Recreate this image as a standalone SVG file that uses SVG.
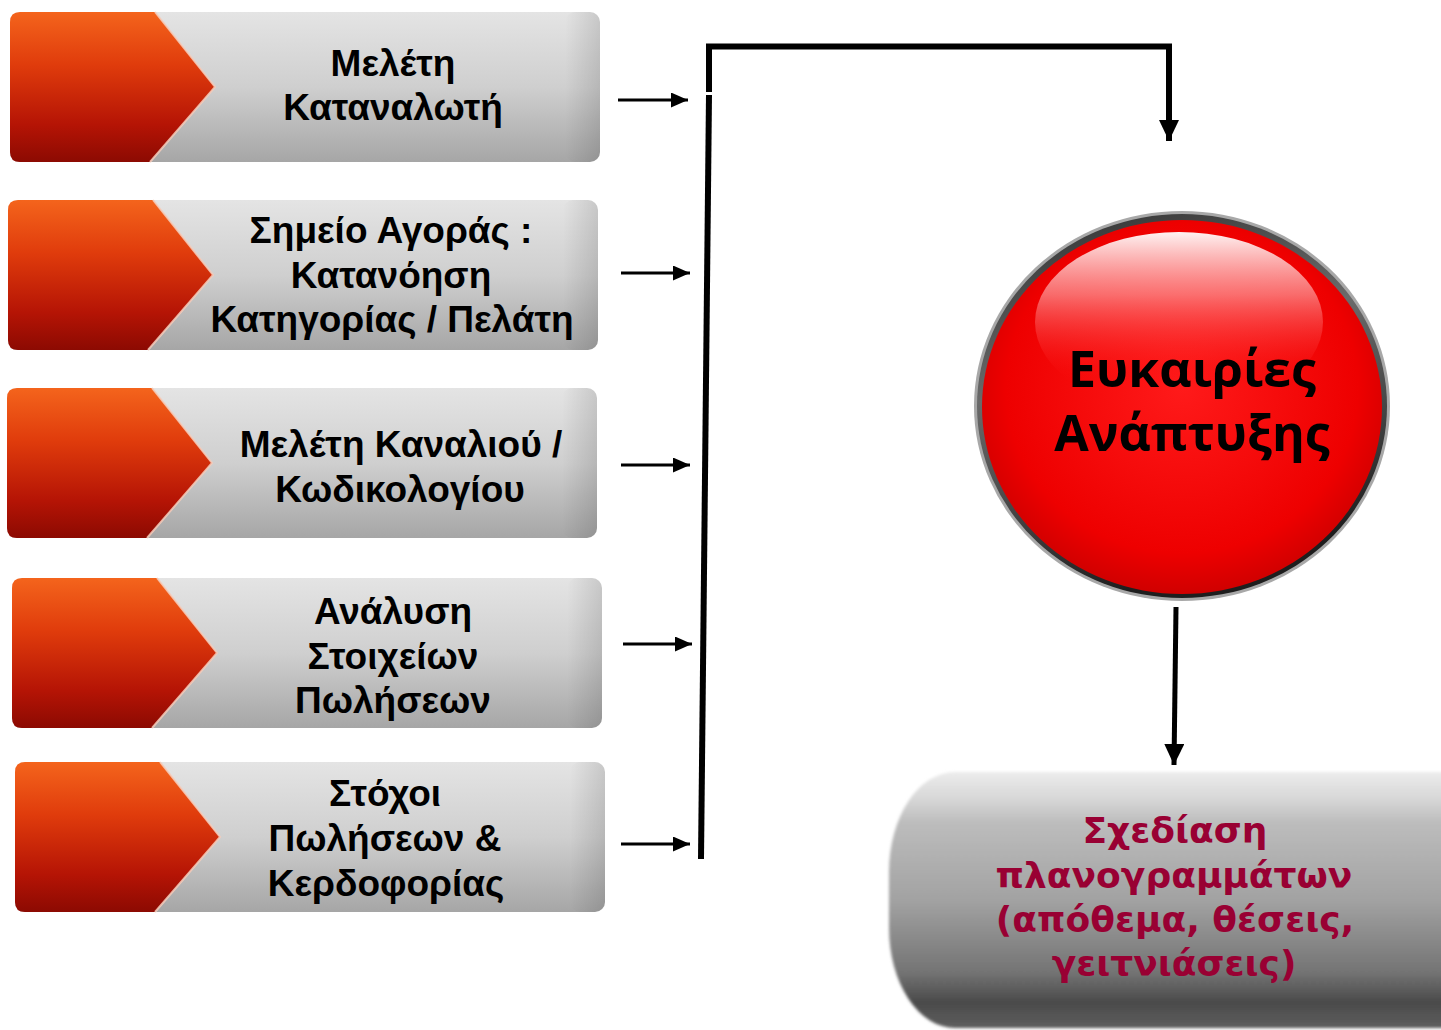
<svg xmlns="http://www.w3.org/2000/svg" xmlns:xlink="http://www.w3.org/1999/xlink" width="1441" height="1030" viewBox="0 0 1441 1030">
<defs>
  <linearGradient id="grayG" x1="0" y1="0" x2="0" y2="1">
    <stop offset="0" stop-color="#e4e4e4"/>
    <stop offset="0.5" stop-color="#cfcfcf"/>
    <stop offset="1" stop-color="#a6a6a6"/>
  </linearGradient>
  <linearGradient id="edgeG" x1="0" y1="0" x2="1" y2="0">
    <stop offset="0" stop-color="#000" stop-opacity="0"/>
    <stop offset="1" stop-color="#000" stop-opacity="0.12"/>
  </linearGradient>
  <linearGradient id="redG" x1="0" y1="0" x2="0" y2="1">
    <stop offset="0" stop-color="#f4641c"/>
    <stop offset="0.35" stop-color="#e03c0c"/>
    <stop offset="0.75" stop-color="#b51405"/>
    <stop offset="1" stop-color="#8c0a02"/>
  </linearGradient>
  <linearGradient id="ringG" x1="0" y1="0" x2="0.3" y2="1">
    <stop offset="0" stop-color="#2e2e2e"/>
    <stop offset="0.45" stop-color="#6a6a6a"/>
    <stop offset="0.7" stop-color="#4a4a4a"/>
    <stop offset="1" stop-color="#1e1e1e"/>
  </linearGradient>
  <radialGradient id="redBall" cx="0.5" cy="0.45" r="0.55">
    <stop offset="0" stop-color="#ff1a1a"/>
    <stop offset="0.8" stop-color="#ee0000"/>
    <stop offset="1" stop-color="#d00000"/>
  </radialGradient>
  <linearGradient id="glossG" x1="0" y1="0" x2="0" y2="1">
    <stop offset="0" stop-color="#ffffff" stop-opacity="0.95"/>
    <stop offset="0.35" stop-color="#ffb0b0" stop-opacity="0.6"/>
    <stop offset="0.85" stop-color="#ff0000" stop-opacity="0"/>
  </linearGradient>
  <linearGradient id="pillG" x1="0" y1="0" x2="0" y2="1">
    <stop offset="0" stop-color="#ececec"/>
    <stop offset="0.1" stop-color="#d8d8d8"/>
    <stop offset="0.2" stop-color="#bcbcbc"/>
    <stop offset="0.5" stop-color="#a2a2a2"/>
    <stop offset="0.78" stop-color="#747474"/>
    <stop offset="0.9" stop-color="#4a4a4a"/>
    <stop offset="1" stop-color="#5e5e5e"/>
  </linearGradient>
  <filter id="soft" x="-5%" y="-5%" width="110%" height="110%">
    <feGaussianBlur stdDeviation="1.5"/>
  </filter>
  <g id="boxShape">
    <rect x="0" y="0" width="590" height="150" rx="10" fill="url(#grayG)"/>
    <rect x="555" y="0" width="35" height="150" rx="10" fill="url(#edgeG)"/>
    <path d="M10,0 H145 L205,75 L140,150 H10 Q0,150 0,140 V10 Q0,0 10,0 Z" fill="url(#redG)"/>
    <path d="M145,0 L205,75 L140,150" fill="none" stroke="#f6cdbb" stroke-width="2" opacity="0.85"/>
  </g>
  <marker id="arrS" markerUnits="userSpaceOnUse" markerWidth="17" markerHeight="15" refX="17" refY="7.5" orient="auto">
    <path d="M0,0 L17,7.5 L0,15 Z" fill="#000"/>
  </marker>
  <marker id="arrB" markerUnits="userSpaceOnUse" markerWidth="21" markerHeight="20" refX="21" refY="10" orient="auto">
    <path d="M0,0 L21,10 L0,20 Z" fill="#000"/>
  </marker>
</defs>
<style>
  .bt { font-family: "Liberation Sans", Arial, sans-serif; font-weight: bold; font-size: 37px; text-anchor: middle; fill: #000; }
  .ct { font-family: "Open Sans", "DejaVu Sans", sans-serif; font-weight: bold; font-size: 50px; text-anchor: middle; fill: #000; }
  .pt { font-family: "DejaVu Sans", Verdana, sans-serif; font-weight: bold; font-size: 36px; text-anchor: middle; fill: #990033; }
  .ln { fill: none; stroke: #000; }
</style>
<rect width="1441" height="1030" fill="#fff"/>

<g id="node-meleti-katanaloti">
  <use xlink:href="#boxShape" href="#boxShape" transform="translate(10,12)"/>
  <text class="bt" x="393" y="76">Μελέτη</text>
  <text class="bt" x="393" y="120">Καταναλωτή</text>
</g>
<g id="node-simeio-agoras">
  <use xlink:href="#boxShape" href="#boxShape" transform="translate(8,200)"/>
  <text class="bt" x="391" y="243">Σημείο Αγοράς :</text>
  <text class="bt" x="391" y="288">Κατανόηση</text>
  <text class="bt" x="392" y="332">Κατηγορίας / Πελάτη</text>
</g>
<g id="node-meleti-kanaliou">
  <use xlink:href="#boxShape" href="#boxShape" transform="translate(7,388)"/>
  <text class="bt" x="401" y="457">Μελέτη Καναλιού /</text>
  <text class="bt" x="400" y="502">Κωδικολογίου</text>
</g>
<g id="node-analysi">
  <use xlink:href="#boxShape" href="#boxShape" transform="translate(12,578)"/>
  <text class="bt" x="393" y="624">Ανάλυση</text>
  <text class="bt" x="393" y="669">Στοιχείων</text>
  <text class="bt" x="393" y="713">Πωλήσεων</text>
</g>
<g id="node-stoxoi">
  <use xlink:href="#boxShape" href="#boxShape" transform="translate(15,762)"/>
  <text class="bt" x="385" y="806">Στόχοι</text>
  <text class="bt" x="385" y="851">Πωλήσεων &amp;</text>
  <text class="bt" x="386" y="896">Κερδοφορίας</text>
</g>

<g id="node-eukairies">
  <ellipse cx="1182" cy="406" rx="208" ry="195" fill="#a8a8a8"/>
  <ellipse cx="1182" cy="406" rx="205" ry="192" fill="url(#ringG)"/>
  <ellipse cx="1182" cy="407" rx="200" ry="187" fill="url(#redBall)"/>
  <ellipse cx="1179" cy="322" rx="144" ry="90" fill="url(#glossG)"/>
  <text class="ct" x="1192" y="387">Ευκαιρίες</text>
  <text class="ct" x="1192" y="451">Ανάπτυξης</text>
</g>

<g id="node-sxediasi">
  <rect x="889" y="772" width="620" height="256" rx="66" ry="100" fill="url(#pillG)" filter="url(#soft)"/>
  <text class="pt" x="1175" y="843">Σχεδίαση</text>
  <text class="pt" x="1174" y="888">πλανογραμμάτων</text>
  <text class="pt" x="1175" y="932">(απόθεμα, θέσεις,</text>
  <text class="pt" x="1174" y="976">γειτνιάσεις)</text>
</g>

<g id="connectors">
  <line class="ln" x1="618" y1="100" x2="688" y2="100" stroke-width="3" marker-end="url(#arrS)"/>
  <line class="ln" x1="621" y1="273" x2="690" y2="273" stroke-width="3" marker-end="url(#arrS)"/>
  <line class="ln" x1="621" y1="465" x2="690" y2="465" stroke-width="3" marker-end="url(#arrS)"/>
  <line class="ln" x1="623" y1="644" x2="692" y2="644" stroke-width="3" marker-end="url(#arrS)"/>
  <line class="ln" x1="621" y1="844" x2="690" y2="844" stroke-width="3" marker-end="url(#arrS)"/>
  <path class="ln" d="M709,92 V46.5 H1169 V141" stroke-width="6" stroke-linejoin="miter" marker-end="url(#arrB)"/>
  <line class="ln" x1="709" y1="95" x2="701" y2="859" stroke-width="6"/>
  <line class="ln" x1="1176" y1="607" x2="1174" y2="765" stroke-width="5" marker-end="url(#arrB)"/>
</g>
</svg>
